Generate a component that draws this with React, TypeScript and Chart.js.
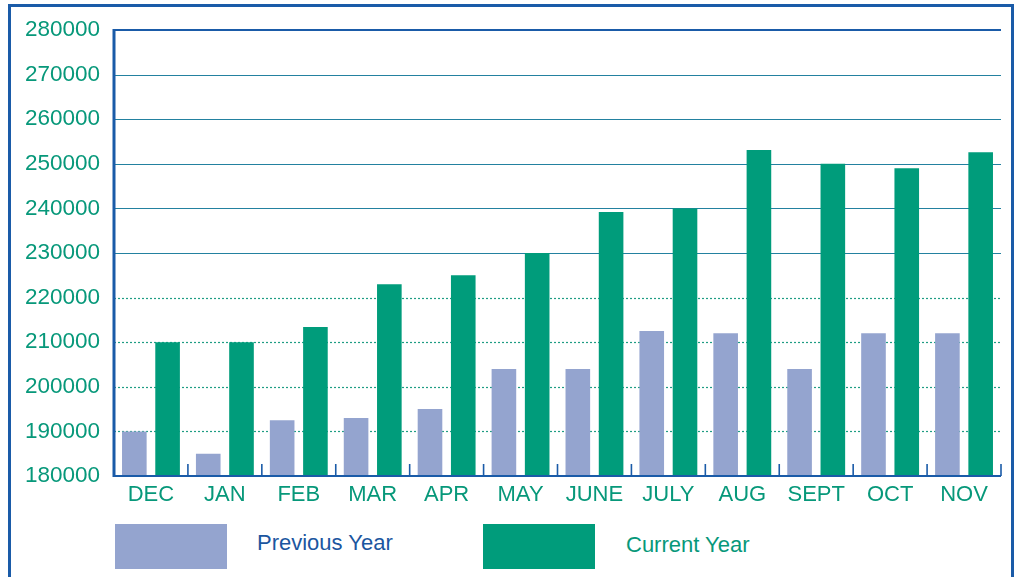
import React, { useEffect, useRef } from "react";
import { Chart, registerables } from "chart.js";

Chart.register(...registerables);

const categories = ["DEC", "JAN", "FEB", "MAR", "APR", "MAY", "JUNE", "JULY", "AUG", "SEPT", "OCT", "NOV"];
const previousYear = [190000, 185000, 192500, 193000, 195000, 204000, 204000, 212500, 212000, 204000, 212000, 212000];
const currentYear = [210000, 210000, 213400, 223000, 225000, 230000, 239200, 240000, 253100, 250000, 249000, 252600];
const yTicks = [180000, 190000, 200000, 210000, 220000, 230000, 240000, 250000, 260000, 270000, 280000];
const legendLabels = ["Previous Year", "Current Year"];

const PREV_COLOR = "#94a4cf";
const CUR_COLOR = "#009c7b";
const TEXT_GREEN = "#07987a";
const AXIS_BLUE = "#1a5ba8";
const FONT = "'Liberation Sans', Arial, Helvetica, sans-serif";

const framePlugin = {
  id: "framePlugin",
  beforeDatasetsDraw(chart: any) {
    const { ctx, chartArea, scales } = chart;
    const y = scales.y;
    ctx.save();
    yTicks.forEach((v) => {
      if (v === 180000 || v === 280000) return;
      const py = Math.round(y.getPixelForValue(v)) + 0.5;
      ctx.beginPath();
      if (v >= 230000) {
        ctx.setLineDash([]);
        ctx.strokeStyle = "#2381a0";
        ctx.lineWidth = 1.2;
      } else {
        ctx.setLineDash([2, 2]);
        ctx.strokeStyle = "#1f9d84";
        ctx.lineWidth = 1.2;
      }
      ctx.moveTo(chartArea.left, py);
      ctx.lineTo(chartArea.right, py);
      ctx.stroke();
    });
    ctx.restore();
  },
  afterDatasetsDraw(chart: any) {
    const { ctx, chartArea, scales } = chart;
    const x = scales.x;
    const y = scales.y;
    ctx.save();
    ctx.strokeStyle = AXIS_BLUE;
    ctx.setLineDash([]);
    const top = y.getPixelForValue(280000);
    ctx.lineWidth = 2;
    ctx.beginPath();
    ctx.moveTo(chartArea.left, top);
    ctx.lineTo(chartArea.right, top);
    ctx.stroke();
    const bottom = y.getPixelForValue(180000);
    ctx.lineWidth = 2;
    ctx.beginPath();
    ctx.moveTo(chartArea.left, bottom);
    ctx.lineTo(chartArea.right, bottom);
    ctx.stroke();
    const n = categories.length;
    const half = (x.getPixelForValue(1) - x.getPixelForValue(0)) / 2;
    ctx.lineWidth = 1.6;
    for (let i = 1; i <= n; i++) {
      const px = x.getPixelForValue(i - 1) + half;
      ctx.beginPath();
      ctx.moveTo(px, bottom);
      ctx.lineTo(px, bottom - 12);
      ctx.stroke();
    }
    ctx.lineWidth = 3;
    ctx.beginPath();
    ctx.moveTo(chartArea.left, top - 1);
    ctx.lineTo(chartArea.left, bottom + 1);
    ctx.stroke();
    ctx.restore();
  },
};

export default function App() {
  const canvasRef = useRef<HTMLCanvasElement | null>(null);

  useEffect(() => {
    if (!canvasRef.current) return;
    const chart = new Chart(canvasRef.current, {
      type: "bar",
      data: {
        labels: categories,
        datasets: [
          {
            label: legendLabels[0],
            data: previousYear,
            backgroundColor: PREV_COLOR,
            barPercentage: 0.74,
            categoryPercentage: 0.9,
          },
          {
            label: legendLabels[1],
            data: currentYear,
            backgroundColor: CUR_COLOR,
            barPercentage: 0.74,
            categoryPercentage: 0.9,
          },
        ],
      },
      options: {
        responsive: false,
        animation: false,
        layout: { padding: { left: 0, top: 30, right: 17, bottom: 0 } },
        plugins: {
          legend: { display: false },
          tooltip: { enabled: false },
        },
        scales: {
          x: {
            grid: { display: false, drawTicks: false },
            border: { display: false },
            ticks: {
              color: TEXT_GREEN,
              font: { family: FONT, size: 22 },
              padding: 6,
              maxRotation: 0,
              autoSkip: false,
            },
            afterFit: (scale: any) => {
              scale.height = 36;
            },
          },
          y: {
            min: 180000,
            max: 280000,
            grid: { display: false, drawTicks: false },
            border: { display: false },
            ticks: {
              stepSize: 10000,
              color: TEXT_GREEN,
              font: { family: FONT, size: 22.5 },
              padding: 14,
              callback: (v: any) => String(v),
            },
            afterFit: (scale: any) => {
              scale.width = 114;
            },
          },
        },
      },
      plugins: [framePlugin],
    });
    return () => chart.destroy();
  }, []);

  return (
    <div
      style={{
        position: "fixed",
        left: 0,
        top: 0,
        width: 1018,
        height: 577,
        background: "#ffffff",
        overflow: "hidden",
        fontFamily: FONT,
      }}
    >
      <div
        style={{
          position: "absolute",
          left: 8,
          top: 4,
          width: 1006,
          height: 620,
          border: `3px solid ${AXIS_BLUE}`,
          boxSizing: "border-box",
        }}
      />
      <canvas
        ref={canvasRef}
        width={1018}
        height={512}
        style={{ position: "absolute", left: 0, top: 0, width: 1018, height: 512 }}
      />
      <div style={{ position: "absolute", left: 115, top: 524, width: 112, height: 45, background: PREV_COLOR }} />
      <div
        style={{
          position: "absolute",
          left: 257,
          top: 530,
          fontSize: 22,
          lineHeight: "26px",
          color: "#1b56a0",
          whiteSpace: "nowrap",
        }}
      >
        {legendLabels[0]}
      </div>
      <div style={{ position: "absolute", left: 483, top: 524, width: 112, height: 45, background: CUR_COLOR }} />
      <div
        style={{
          position: "absolute",
          left: 626,
          top: 532,
          fontSize: 22,
          lineHeight: "26px",
          color: TEXT_GREEN,
          whiteSpace: "nowrap",
        }}
      >
        {legendLabels[1]}
      </div>
    </div>
  );
}
